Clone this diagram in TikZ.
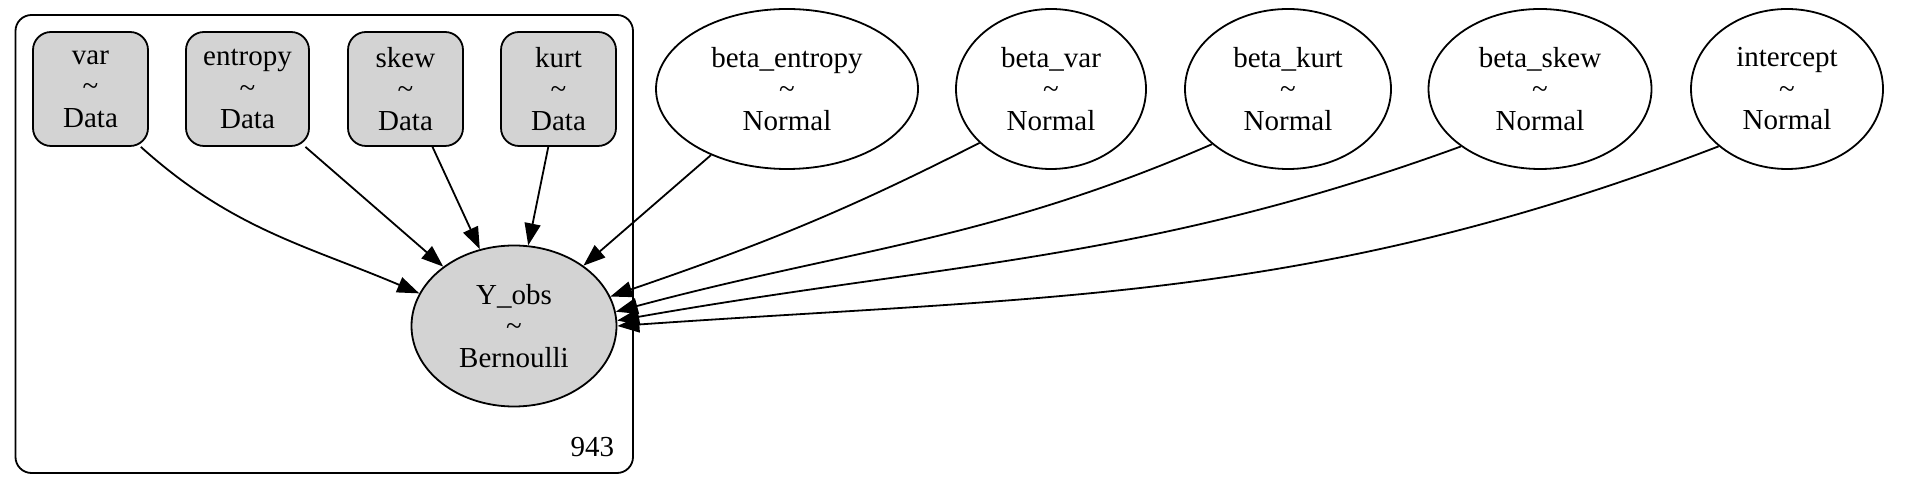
\documentclass[tikz,border=0pt]{standalone}
\usepackage{fontspec}
\setmainfont{Liberation Serif}
\usetikzlibrary{shapes.geometric,arrows.meta}
\definecolor{nodegray}{HTML}{D3D3D3}
\begin{document}
\begin{tikzpicture}[x=1pt,y=1pt,line width=1.8pt,
  every node/.style={font=\fontsize{29}{31.5}\selectfont, align=center, inner sep=0pt},
  datanode/.style={draw, rectangle, rounded corners=18pt, fill=nodegray, minimum width=#1, minimum height=114pt},
  rvnode/.style={draw, ellipse, minimum width=#1, minimum height=160pt},
  obsnode/.style={draw, ellipse, fill=nodegray, minimum width=205pt, minimum height=161pt},
  conn/.style={-{Triangle[length=22pt,width=16pt]}},
  platebox/.style={rounded corners=16pt}]
\useasboundingbox (0,0) rectangle (1924,492);
% plate
\draw[platebox] (15.5,19) rectangle (633,477);
\node[anchor=base east] (plabel) at (615,35) {943};
% data nodes
\node[datanode=115pt] (var) at (90.5,403) {var\\\textasciitilde\\Data};
\node[datanode=123pt] (entropy) at (247.5,403) {entropy\\\textasciitilde\\Data};
\node[datanode=115pt] (skew) at (405.5,403) {skew\\\textasciitilde\\Data};
\node[datanode=115pt] (kurt) at (558.5,403) {kurt\\\textasciitilde\\Data};
% observed
\node[obsnode] (Yobs) at (514,166) {Y\_obs\\\textasciitilde\\Bernoulli};
% priors
\node[rvnode=262pt] (bentropy) at (787,403) {beta\_entropy\\\textasciitilde\\Normal};
\node[rvnode=190pt] (bvar) at (1051,403) {beta\_var\\\textasciitilde\\Normal};
\node[rvnode=206pt] (bkurt) at (1288,403) {beta\_kurt\\\textasciitilde\\Normal};
\node[rvnode=223pt] (bskew) at (1540,403) {beta\_skew\\\textasciitilde\\Normal};
\node[rvnode=192pt] (intercept) at (1787,403) {intercept\\\textasciitilde\\Normal};
% edges
\draw[conn] (var.-49) .. controls +(-42:123) and +(157:123) .. (Yobs.161);
\draw[conn] (entropy.-45) -- (Yobs.140);
\draw[conn] (skew.-65) -- (Yobs.114);
\draw[conn] (kurt.-100) -- (Yobs.80);
\draw[conn] (bentropy.-139) -- (Yobs.41);
\draw[conn] (bvar.-143) .. controls +(207:157) and +(19:157) .. (Yobs.17);
\draw[conn] (bkurt.-144) .. controls +(203.5:242) and +(15:242) .. (Yobs.8.5);
\draw[conn] (bskew.-144) .. controls +(200:336) and +(10:336) .. (Yobs.3.3);
\draw[conn] (intercept.-140) .. controls +(201:435) and +(4:435) .. (Yobs.0);
\end{tikzpicture}
\end{document}
